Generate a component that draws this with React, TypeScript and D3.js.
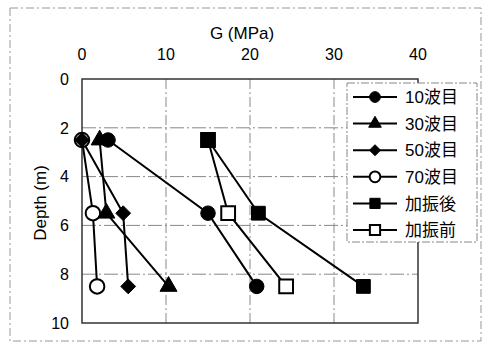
import React from "react";
import * as d3 from "d3";

// depth levels (m)
const depths = [2.5, 5.5, 8.5];

// G (MPa) per series, at each depth
const series = [
  { name: "10波目", shape: "circle", filled: true, values: [3.1, 15, 20.8] },
  { name: "30波目", shape: "triangle", filled: true, values: [2.1, 2.9, 10.3] },
  { name: "50波目", shape: "diamond", filled: true, values: [0, 4.9, 5.5] },
  { name: "70波目", shape: "circle", filled: false, values: [0, 1.3, 1.8] },
  { name: "加振後", shape: "square", filled: true, values: [15, 21, 33.5] },
  { name: "加振前", shape: "square", filled: false, values: [15, 17.4, 24.3] },
];

const xTicks = [0, 10, 20, 30, 40];
const yTicks = [0, 2, 4, 6, 8, 10];

const W = 485;
const H = 344;
const plot = { left: 82, right: 418, top: 79, bottom: 323 };

const x = d3.scaleLinear().domain([0, 40]).range([plot.left, plot.right]);
const y = d3.scaleLinear().domain([0, 10]).range([plot.top, plot.bottom]);

// equal-sided diamond (square turned 45deg)
const symbolRhomb: d3.SymbolType = {
  draw(ctx, size) {
    const r = Math.sqrt(size / 2);
    ctx.moveTo(0, -r);
    ctx.lineTo(r, 0);
    ctx.lineTo(0, r);
    ctx.lineTo(-r, 0);
    ctx.closePath();
  },
};

const symType: Record<string, d3.SymbolType> = {
  circle: d3.symbolCircle,
  triangle: d3.symbolTriangle,
  diamond: symbolRhomb,
  square: d3.symbolSquare,
};
const symSize: Record<string, number> = {
  circle: 165,
  triangle: 125,
  diamond: 110,
  square: 190,
};

const font = "'Liberation Sans', Arial, 'Noto Sans CJK JP', sans-serif";

const Marker: React.FC<{ cx: number; cy: number; shape: string; filled: boolean; scale?: number }> = ({
  cx,
  cy,
  shape,
  filled,
  scale = 1,
}) => {
  const d = d3.symbol().type(symType[shape]).size(symSize[shape] * scale)() || "";
  return (
    <path
      d={d}
      transform={`translate(${cx},${cy})`}
      fill={filled ? "#000" : "#fff"}
      stroke="#000"
      strokeWidth={filled ? 1 : 2}
    />
  );
};

export default function App() {
  const line = d3
    .line<number>()
    .x((v) => x(v))
    .y((_, i) => y(depths[i]));

  const legend = { x: 347, y: 83, w: 130, h: 159, row0: 97, rowGap: 26.6 };

  return (
    <svg width={W} height={H} style={{ position: "absolute", left: 0, top: 0 }} fontFamily={font}>
      <rect x={0} y={0} width={W} height={H} fill="#fff" />
      {/* outer frame */}
      <rect x={10} y={8} width={471} height={333} fill="none" stroke="#999" strokeWidth={1} strokeDasharray="8,3,2,3" />

      {/* grid */}
      {xTicks.slice(1, -1).map((t) => (
        <line key={"gx" + t} x1={x(t)} x2={x(t)} y1={plot.top} y2={plot.bottom} stroke="#888" strokeWidth={1} strokeDasharray="10,3,2,3" />
      ))}
      {yTicks.slice(1, -1).map((t) => (
        <line key={"gy" + t} x1={plot.left} x2={plot.right} y1={y(t)} y2={y(t)} stroke="#888" strokeWidth={1} strokeDasharray="14,3,2,3" />
      ))}
      <rect
        x={plot.left}
        y={plot.top}
        width={plot.right - plot.left}
        height={plot.bottom - plot.top}
        fill="none"
        stroke="#333"
        strokeWidth={1.5}
      />

      {/* x axis (top) */}
      {xTicks.map((t) => (
        <text key={"tx" + t} x={x(t)} y={60} textAnchor="middle" fontSize={16}>
          {t}
        </text>
      ))}
      <text x={242} y={39} textAnchor="middle" fontSize={17}>
        G (MPa)
      </text>

      {/* y axis */}
      {yTicks.map((t) => (
        <text key={"ty" + t} x={69} y={y(t)} dy="0.36em" textAnchor="end" fontSize={16}>
          {t}
        </text>
      ))}
      <text transform="translate(46,203) rotate(-90)" textAnchor="middle" fontSize={17}>
        Depth (m)
      </text>

      {/* series */}
      {series.map((s) => (
        <path key={"l" + s.name} d={line(s.values) || ""} fill="none" stroke="#000" strokeWidth={2} />
      ))}
      {series
        .slice()
        .reverse()
        .map((s) =>
          s.values.map((v, i) => (
            <Marker key={s.name + i} cx={x(v)} cy={y(depths[i])} shape={s.shape} filled={s.filled} />
          ))
        )}

      {/* legend */}
      <rect x={legend.x} y={legend.y} width={legend.w} height={legend.h} fill="#fff" stroke="#888" strokeWidth={1} strokeDasharray="8,2,2,2" />
      {series.map((s, i) => {
        const ry = legend.row0 + i * legend.rowGap;
        return (
          <g key={"lg" + s.name}>
            <line x1={353} x2={397} y1={ry} y2={ry} stroke="#000" strokeWidth={2} />
            <Marker cx={375} cy={ry} shape={s.shape} filled={s.filled} scale={0.55} />
            <text x={405} y={ry} dy="0.36em" fontSize={17}>
              {s.name}
            </text>
          </g>
        );
      })}
    </svg>
  );
}
